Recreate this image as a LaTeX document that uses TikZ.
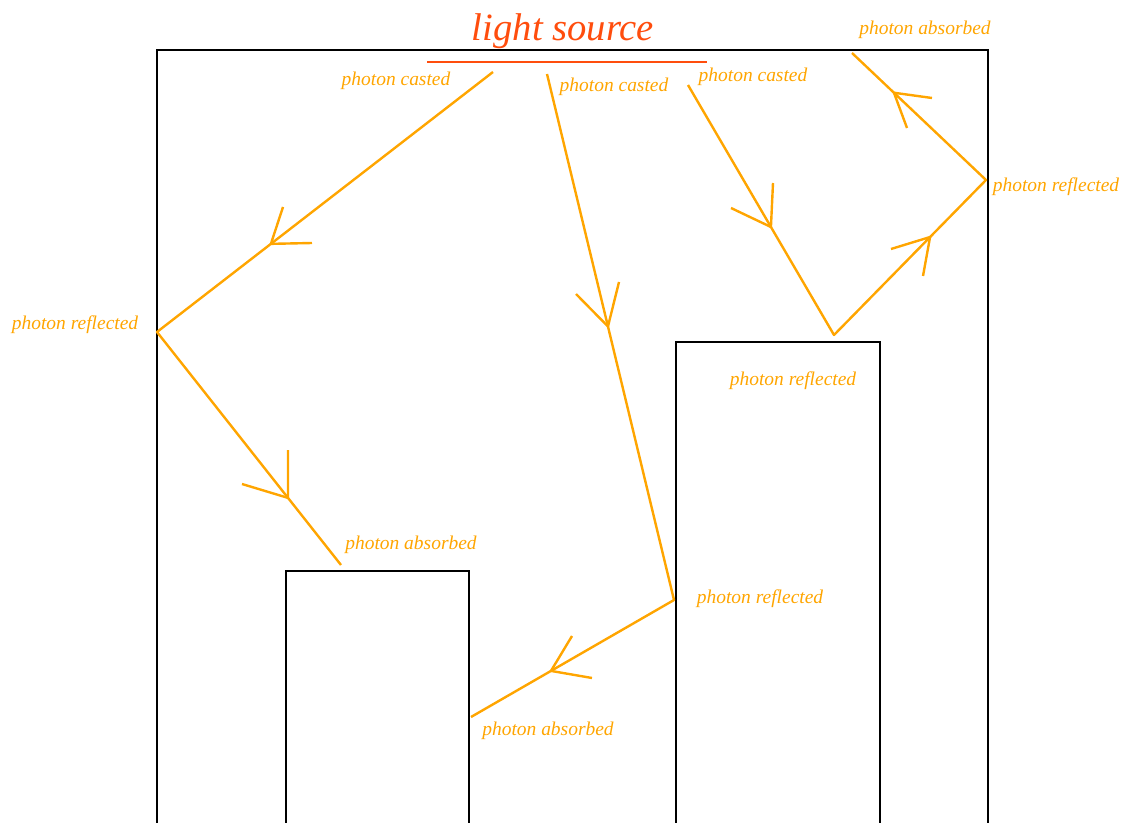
\documentclass[tikz,border=0pt]{standalone}
\usepackage{fontspec}
\setmainfont{Liberation Serif}
\usetikzlibrary{calc}
\definecolor{photonc}{HTML}{FFA500}
\definecolor{lightsrc}{HTML}{FF4D0D}
\begin{document}
\begin{tikzpicture}[x=0.75pt,y=-0.75pt,
  wall/.style={draw=black, line width=1.5pt},
  ray/.style={draw=photonc, line width=1.8pt, line join=round},
  lbl/.style={text=photonc, font=\itshape\fontsize{14.6}{16}\selectfont, inner sep=0pt},
  title/.style={text=lightsrc, font=\itshape\fontsize{29}{32}\selectfont, inner sep=0pt}]
\useasboundingbox (0,0) rectangle (1135,823);
\clip (0,0) rectangle (1135,823);
% walls
\draw[wall] (157,840) -- (157,50) -- (988,50) -- (988,840);
\draw[wall] (286,840) -- (286,571) -- (469,571) -- (469,840);
\draw[wall] (676,840) -- (676,342) -- (880,342) -- (880,840);
% light source
\draw[draw=lightsrc, line width=2.2pt] (427,62) -- (707,62);
\node[title] (ls) at (563,31) {light source};
% photon points
\coordinate (s1) at (493,72);
\coordinate (r1) at (157,332);
\coordinate (a1) at (341,565);
\coordinate (s2) at (547,74);
\coordinate (r2) at (674,600);
\coordinate (a2) at (471,717);
\coordinate (s3) at (688,85);
\coordinate (r3) at (834,335);
\coordinate (r4) at (986,180);
\coordinate (a3) at (852,53);
% rays
\draw[ray] (s1) -- (r1) -- (a1);
\draw[ray] (s2) -- (r2) -- (a2);
\draw[ray] (s3) -- (r3) -- (r4) -- (a3);
% arrow tips on the rays
\path (s1) -- coordinate[pos=0.661] (t1) (r1);
\path (r1) -- coordinate[pos=0.712] (t2) (a1);
\path (s2) -- coordinate[pos=0.48] (t3) (r2);
\path (r2) -- coordinate[pos=0.606] (t4) (a2);
\path (s3) -- coordinate[pos=0.568] (t5) (r3);
\path (r3) -- coordinate[pos=0.632] (t6) (r4);
\path (r4) -- coordinate[pos=0.687] (t7) (a3);
% prong ends
\coordinate (p1a) at (283,207); \coordinate (p1b) at (312,243);
\coordinate (p2a) at (288,450); \coordinate (p2b) at (242,484);
\coordinate (p3a) at (619,282); \coordinate (p3b) at (576,294);
\coordinate (p4a) at (572,636); \coordinate (p4b) at (592,678);
\coordinate (p5a) at (773,183); \coordinate (p5b) at (731,208);
\coordinate (p6a) at (891,249); \coordinate (p6b) at (923,276);
\coordinate (p7a) at (932,98);  \coordinate (p7b) at (907,128);
\foreach \i in {1,...,7}{\draw[ray] (p\i a) -- (t\i) -- (p\i b);}
% labels
\node[lbl] (l1) at (396,81) {photon casted};
\node[lbl] (l2) at (614,87) {photon casted};
\node[lbl] (l3) at (753,77) {photon casted};
\node[lbl] (l4) at (925,30) {photon absorbed};
\node[lbl] (l5) at (1056,187) {photon reflected};
\node[lbl] (l6) at (75,325) {photon reflected};
\node[lbl] (l7) at (793,381) {photon reflected};
\node[lbl] (l8) at (411,545) {photon absorbed};
\node[lbl] (l9) at (760,599) {photon reflected};
\node[lbl] (l10) at (548,731) {photon absorbed};
\end{tikzpicture}
\end{document}
